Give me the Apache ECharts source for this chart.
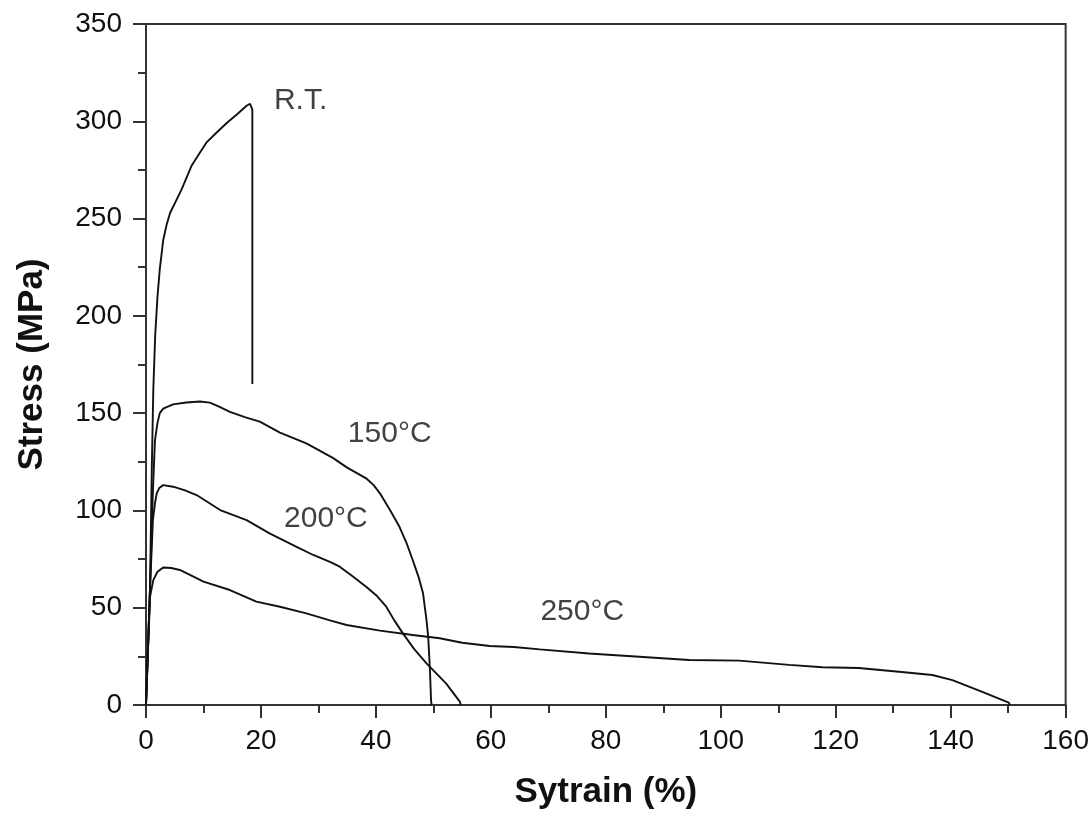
<!DOCTYPE html>
<html>
<head>
<meta charset="utf-8">
<script src="https://cdn.jsdelivr.net/npm/echarts@6/dist/echarts.min.js"></script>
<style>
html,body{margin:0;padding:0;background:#fff;}
#chart{width:1092px;height:820px;}
</style>
</head>
<body>
<div id="chart"></div>
<script>
var rtCurve = [[0,0],[0.7,60],[1.0,120],[1.27,162],[1.6,190],[2.0,210],[2.4,224],[3.0,239],[3.6,247],[4.2,253],[5.2,259],[6.2,265],[7.9,277],[9.2,283],[10.5,289],[12.2,294],[14.0,299],[16.0,304],[17.5,308],[18.1,309],[18.5,306],[18.5,165]];
var c150Curve = [[0,0],[0.7,60],[1.2,110],[1.56,136],[2.0,145],[2.4,150],[3.0,152.3],[3.5,153],[4.7,154.5],[7,155.5],[9.4,156],[11.1,155.4],[12.8,153.2],[14.6,150.7],[17.2,148],[19.8,145.6],[23.3,140],[27.9,134.5],[32.5,127],[35,122],[38.3,116.5],[39.6,113],[40.7,108.8],[42.5,100],[44.1,91.6],[45.3,83.5],[46.4,74.5],[47.4,66],[48.2,57.4],[48.8,43.7],[49.1,35],[49.4,18],[49.6,2],[49.7,0]];
var c200Curve = [[0,0],[0.7,60],[1.2,95],[1.56,103.6],[1.86,108.8],[2.3,111.5],[3.0,113],[4.7,112.2],[6.8,110.3],[8.8,107.9],[12.9,100.2],[17.5,95],[21.5,88.2],[26.2,81.3],[29.1,77.1],[32,73.6],[33.7,71.1],[36,66],[38.3,60.8],[40.2,56],[41.8,50.5],[43.2,43.5],[44.7,36.8],[46.6,29],[48.8,21.4],[52.2,11.1],[54.6,1.7],[54.8,0]];
var c250Curve = [[0,0],[0.7,55.6],[1.27,64.2],[2,68.5],[3.0,70.7],[4.4,70.4],[5.9,69.4],[10,63.4],[14.6,59.1],[19.2,53.1],[23.3,50.5],[27.9,47.1],[32,43.5],[34.9,41.1],[40.7,38.2],[46.4,36],[51.1,34.3],[55,32],[59.8,30.3],[64,29.8],[68.5,28.6],[77.1,26.5],[85.8,24.8],[94.5,23.1],[103.2,22.8],[111.9,20.6],[117.7,19.4],[124,19],[131,17.1],[136.8,15.4],[140.3,12.8],[145.5,6.8],[150.1,1.2],[150.3,0]];
var seriesNames = ['R.T.','150°C','200°C','250°C'];
// curve annotations anchored in data coordinates [strain, stress]
var annotationText = ['R.T.','150°C','200°C','250°C'];
var annotationAt = [[26.9,310.4],[42.4,139.3],[31.3,95.6],[75.9,47.8]];
var xTickLabels = ['0','20','40','60','80','100','120','140','160'];
var yTickLabels = ['0','50','100','150','200','250','300','350'];

var font = '"Liberation Sans", Arial, Helvetica, sans-serif';
var curves = [rtCurve, c150Curve, c200Curve, c250Curve];
var series = curves.map(function(d, i){
  return {
    name: seriesNames[i], type: 'line', data: d, showSymbol: false, symbol: 'none',
    lineStyle: {color: '#111', width: 1.9}, animation: false, z: 3
  };
});
series.push({
  type: 'scatter', symbolSize: 0, animation: false, silent: true,
  data: annotationAt.map(function(p, i){ return {value: p, name: annotationText[i]}; }),
  label: {show: true, position: 'inside', formatter: '{b}', color: '#111', fontSize: 30, fontFamily: font}
});

var chart = echarts.init(document.getElementById('chart'), null, {renderer: 'canvas'});
chart.setOption({
  backgroundColor: '#fff',
  animation: false,
  grid: {left: 146, right: 25, top: 24, bottom: 115, show: true, borderColor: '#333', borderWidth: 2, backgroundColor: 'transparent'},
  xAxis: {
    type: 'value', min: 0, max: 160, interval: 20,
    name: 'Sytrain (%)', nameLocation: 'middle', nameGap: 70,
    nameTextStyle: {fontSize: 35, fontWeight: 'bold', color: '#111', fontFamily: font},
    axisLine: {show: true, lineStyle: {color: '#333', width: 2}},
    axisTick: {show: true, inside: false, length: 13, lineStyle: {color: '#333', width: 2}},
    minorTick: {show: true, splitNumber: 2, length: 8, lineStyle: {color: '#333', width: 2}},
    splitLine: {show: false},
    axisLabel: {fontSize: 28, color: '#111', fontFamily: font, margin: 22,
      formatter: function(v){ var i = Math.round(v/20); return xTickLabels[i] !== undefined ? xTickLabels[i] : ''; }}
  },
  yAxis: {
    type: 'value', min: 0, max: 350, interval: 50,
    name: 'Stress (MPa)', nameLocation: 'middle', nameGap: 96,
    nameTextStyle: {fontSize: 35, fontWeight: 'bold', color: '#111', fontFamily: font},
    axisLine: {show: true, lineStyle: {color: '#333', width: 2}},
    axisTick: {show: true, inside: false, length: 13, lineStyle: {color: '#333', width: 2}},
    minorTick: {show: true, splitNumber: 2, length: 8, lineStyle: {color: '#333', width: 2}},
    splitLine: {show: false},
    axisLabel: {fontSize: 28, color: '#111', fontFamily: font, margin: 24,
      formatter: function(v){ var i = Math.round(v/50); return yTickLabels[i] !== undefined ? yTickLabels[i] : ''; }}
  },
  series: series
});
</script>
</body>
</html>
